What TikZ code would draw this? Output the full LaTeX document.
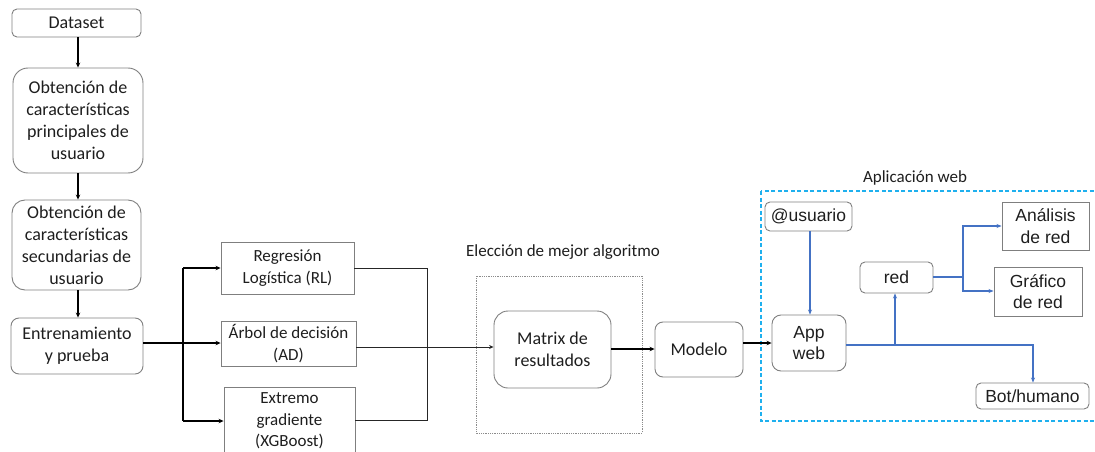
\documentclass[tikz,border=0pt]{standalone}
\usepackage{fontspec}
\setmainfont{Carlito}
\newfontfamily\arialfont{Liberation Sans}
\usetikzlibrary{arrows.meta}
\definecolor{boxgray}{HTML}{7F7F7F}
\definecolor{linkblue}{HTML}{4472C4}
\definecolor{frameblue}{HTML}{1FB0EE}
\definecolor{inkdark}{HTML}{1E1E1E}
\definecolor{dotgray}{HTML}{8C8C8C}

\begin{document}
\begin{tikzpicture}[x=1pt,y=-1pt,
  box/.style={draw=boxgray, line width=0.9pt, text=inkdark, align=center, inner sep=0pt},
  rbox/.style={box, rounded corners=#1},
  calib/.style={font=\fontsize{18}{22}\selectfont},
  calibs/.style={font=\fontsize{17}{21.7}\selectfont},
  arial/.style={font=\arialfont\fontsize{17.5}{21.5}\selectfont},
  flow/.style={draw=black, line width=1.4pt, -{Stealth[length=5pt,width=4.5pt]}},
  thinflow/.style={draw=black!85, line width=0.9pt},
  blueflow/.style={draw=linkblue, line width=1.2pt},
  bluetip/.style={-{Stealth[length=5pt,width=4pt]}},
  smalltip/.style={-{Stealth[length=4.5pt,width=4pt]}}
]
\useasboundingbox (0,0) rectangle (1095,452);
\clip (0,0) rectangle (1095,452);

% left column: data preparation
\node[rbox=5pt, calib, minimum width=129pt, minimum height=28pt] (data) at (76.5,23) {Dataset};
\node[rbox=15pt, calib, minimum width=130pt, minimum height=105pt] (prin) at (78,120.5)
  {Obtención de\\características\\principales de\\usuario};
\node[rbox=13pt, calib, minimum width=129pt, minimum height=90pt] (sec) at (76.5,245)
  {Obtención de\\características\\secundarias de\\usuario};
\node[rbox=8pt, calib, minimum width=132pt, minimum height=56pt] (train) at (77,346)
  {Entrenamiento\\y prueba};

\draw[flow] (data.south -| 78,0) -- (prin.north -| 78,0);
\draw[flow] (prin.south -| 78,0) -- (sec.north -| 78,0);
\draw[flow] (sec.south -| 78,0) -- (train.north -| 78,0);

% classifiers
\node[box, calibs, minimum width=133pt, minimum height=52pt] (rl) at (287.5,268)
  {Regresión\\Logística (RL)};
\node[box, calibs, minimum width=135pt, minimum height=45pt] (ad) at (288.5,343.5)
  {Árbol de decisión\\(AD)};
\node[box, calibs, minimum width=131pt, minimum height=68pt] (xg) at (289.5,421)
  {Extremo\\gradiente\\(XGBoost)};

\coordinate (split) at (183,343);
\draw[flow] (train.east |- split) -- (ad.west |- split);
\draw[line width=1.4pt] (183,268) -- (183,421);
\draw[flow] (183,268) -- (rl.west |- 0,268);
\draw[flow] (183,421) -- (xg.west |- 0,421);

% choice of the best algorithm
\draw[dotgray, densely dotted, line width=0.8pt] (476,276) rectangle (642,433);
\node[calibs, text=inkdark] (choice) at (563,252) {Elección de mejor algoritmo};
\node[rbox=14pt, calib, minimum width=117pt, minimum height=77pt] (mat) at (552.5,349.5)
  {Matrix de\\resultados};
\node[rbox=8pt, calib, minimum width=88pt, minimum height=55pt] (mod) at (699,349.5) {Modelo};

\coordinate (join) at (427,420);
\draw[thinflow] (rl.east |- 0,268) -- (427,268) -- (join) -- (xg.east |- join);
\draw[thinflow, smalltip] (ad.east |- 0,347) -- (mat.west |- 0,347);
\draw[flow] (mat.east |- 0,349) -- (mod.west |- 0,349);

% web application
\draw[frameblue, dashed, line width=1.5pt, dash pattern=on 4pt off 2.5pt] (761,191) rectangle (1110,421);
\node[calibs, text=inkdark] (apptitle) at (915,178) {Aplicación web};

\node[rbox=5pt, arial, minimum width=87pt, minimum height=29pt] (user) at (808.5,216.5) {@usuario};
\node[rbox=9pt, arial, minimum width=74pt, minimum height=56pt] (app) at (809,343) {App\\web};
\node[rbox=5pt, arial, minimum width=73pt, minimum height=31pt] (red) at (896.5,277.5) {red};
\node[box, arial, minimum width=87pt, minimum height=48pt] (ana) at (1045.5,226) {Análisis\\de red};
\node[box, arial, minimum width=88pt, minimum height=49pt] (graf) at (1038,291.5) {Gráfico\\de red};
\node[rbox=5pt, arial, minimum width=113pt, minimum height=26pt] (bot) at (1032.5,396) {Bot/humano};

\draw[flow] (mod.east |- app.west) -- (app.west);

\draw[blueflow, bluetip] (user.south -| 810,0) -- (app.north -| 810,0);
\coordinate (fork) at (895,345);
\draw[blueflow, bluetip] (app.east |- fork) -- (1033,345) -- (bot.north -| 1033,0);
\draw[blueflow, bluetip] (fork) -- (red.south -| fork);
\coordinate (hub) at (963,277);
\draw[blueflow] (red.east |- hub) -- (hub);
\draw[blueflow, bluetip] (hub) |- (ana.west |- 0,226);
\draw[blueflow, bluetip] (hub) |- (graf.west |- 0,291);
\end{tikzpicture}
\end{document}
